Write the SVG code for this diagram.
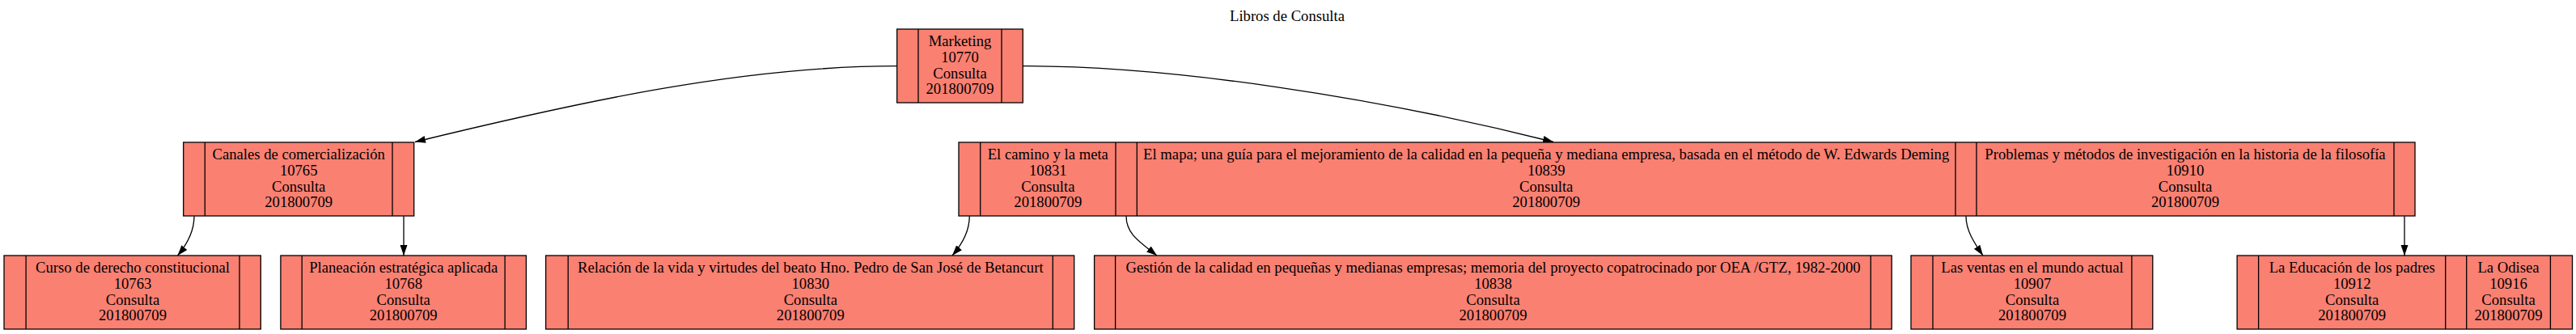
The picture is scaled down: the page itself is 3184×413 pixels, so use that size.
<svg xmlns="http://www.w3.org/2000/svg" width="3184" height="413" viewBox="0 0 3184 413">
<style>
.box{fill:#fa8072;stroke:#000;stroke-width:1.3}
.div{stroke:#000;stroke-width:1.3}
.t{font-family:"Liberation Serif","Times New Roman",serif;font-size:18.67px;fill:#000;text-anchor:middle}
.title{font-family:"Liberation Serif","Times New Roman",serif;font-size:18.67px;fill:#000;text-anchor:middle}
.e{fill:none;stroke:#000;stroke-width:1.3}
</style>
<defs>
<marker id="ah" markerUnits="userSpaceOnUse" markerWidth="14" markerHeight="10" refX="13" refY="4.5" orient="auto">
<path d="M0,0 L13,4.5 L0,9 z" fill="#000"/>
</marker>
</defs>
<rect width="3184" height="413" fill="#fff"/>
<text class="title" x="1591" y="26">Libros de Consulta</text>

<g id="edges">
<path class="e" marker-end="url(#ah)" d="M1108.7,81.7 C920,81.7 720,125 513,175.5"/>
<path class="e" marker-end="url(#ah)" d="M1264.3,81.7 C1450,81.7 1700,120 1920,175.5"/>
<path class="e" marker-end="url(#ah)" d="M240,267.3 C240,285 233,300 219.5,316"/>
<path class="e" marker-end="url(#ah)" d="M499,267.3 L499,316"/>
<path class="e" marker-end="url(#ah)" d="M1198.3,267.3 C1198.3,285 1191,300 1177,316"/>
<path class="e" marker-end="url(#ah)" d="M1392,267.3 C1392,290 1410,300 1430,316"/>
<path class="e" marker-end="url(#ah)" d="M2430,267.3 C2430,285 2440,300 2451,316"/>
<path class="e" marker-end="url(#ah)" d="M2972,267.3 L2972,316"/>
</g>

<g id="node-marketing">
<rect class="box" x="1108.7" y="36" width="155.6" height="91"/>
<line class="div" x1="1135" y1="36" x2="1135" y2="127"/>
<line class="div" x1="1238" y1="36" x2="1238" y2="127"/>
<text class="t" x="1186.5" y="57">Marketing</text>
<text class="t" x="1186.5" y="76.8">10770</text>
<text class="t" x="1186.5" y="96.6">Consulta</text>
<text class="t" x="1186.5" y="116.4">201800709</text>
</g>

<g id="node-canales">
<rect class="box" x="226.7" y="176" width="285" height="91"/>
<line class="div" x1="253.3" y1="176" x2="253.3" y2="267"/>
<line class="div" x1="485" y1="176" x2="485" y2="267"/>
<text class="t" x="369.2" y="197">Canales de comercialización</text>
<text class="t" x="369.2" y="216.8">10765</text>
<text class="t" x="369.2" y="236.6">Consulta</text>
<text class="t" x="369.2" y="256.4">201800709</text>
</g>

<g id="node-middle">
<rect class="box" x="1185" y="176" width="1800" height="91"/>
<line class="div" x1="1211.7" y1="176" x2="1211.7" y2="267"/>
<line class="div" x1="1379" y1="176" x2="1379" y2="267"/>
<line class="div" x1="1405.3" y1="176" x2="1405.3" y2="267"/>
<line class="div" x1="2417" y1="176" x2="2417" y2="267"/>
<line class="div" x1="2443" y1="176" x2="2443" y2="267"/>
<line class="div" x1="2959" y1="176" x2="2959" y2="267"/>
<text class="t" x="1295.3" y="197">El camino y la meta</text>
<text class="t" x="1295.3" y="216.8">10831</text>
<text class="t" x="1295.3" y="236.6">Consulta</text>
<text class="t" x="1295.3" y="256.4">201800709</text>
<text class="t" x="1911.2" y="197">El mapa; una guía para el mejoramiento de la calidad en la pequeña y mediana empresa, basada en el método de W. Edwards Deming</text>
<text class="t" x="1911.2" y="216.8">10839</text>
<text class="t" x="1911.2" y="236.6">Consulta</text>
<text class="t" x="1911.2" y="256.4">201800709</text>
<text class="t" x="2701" y="197">Problemas y métodos de investigación en la historia de la filosofía</text>
<text class="t" x="2701" y="216.8">10910</text>
<text class="t" x="2701" y="236.6">Consulta</text>
<text class="t" x="2701" y="256.4">201800709</text>
</g>

<g id="node-curso">
<rect class="box" x="5" y="316" width="317.3" height="91"/>
<line class="div" x1="32.1" y1="316" x2="32.1" y2="407"/>
<line class="div" x1="296" y1="316" x2="296" y2="407"/>
<text class="t" x="164" y="337">Curso de derecho constitucional</text>
<text class="t" x="164" y="356.8">10763</text>
<text class="t" x="164" y="376.6">Consulta</text>
<text class="t" x="164" y="396.4">201800709</text>
</g>

<g id="node-planeacion">
<rect class="box" x="346.9" y="316" width="303.5" height="91"/>
<line class="div" x1="373.2" y1="316" x2="373.2" y2="407"/>
<line class="div" x1="624.1" y1="316" x2="624.1" y2="407"/>
<text class="t" x="498.7" y="337">Planeación estratégica aplicada</text>
<text class="t" x="498.7" y="356.8">10768</text>
<text class="t" x="498.7" y="376.6">Consulta</text>
<text class="t" x="498.7" y="396.4">201800709</text>
</g>

<g id="node-relacion">
<rect class="box" x="674.6" y="316" width="653.1" height="91"/>
<line class="div" x1="702.2" y1="316" x2="702.2" y2="407"/>
<line class="div" x1="1301.3" y1="316" x2="1301.3" y2="407"/>
<text class="t" x="1001.8" y="337">Relación de la vida y virtudes del beato Hno. Pedro de San José de Betancurt</text>
<text class="t" x="1001.8" y="356.8">10830</text>
<text class="t" x="1001.8" y="376.6">Consulta</text>
<text class="t" x="1001.8" y="396.4">201800709</text>
</g>

<g id="node-gestion">
<rect class="box" x="1352.6" y="316" width="985.6" height="91"/>
<line class="div" x1="1378.6" y1="316" x2="1378.6" y2="407"/>
<line class="div" x1="2312.3" y1="316" x2="2312.3" y2="407"/>
<text class="t" x="1845.5" y="337">Gestión de la calidad en pequeñas y medianas empresas; memoria del proyecto copatrocinado por OEA /GTZ, 1982-2000</text>
<text class="t" x="1845.5" y="356.8">10838</text>
<text class="t" x="1845.5" y="376.6">Consulta</text>
<text class="t" x="1845.5" y="396.4">201800709</text>
</g>

<g id="node-ventas">
<rect class="box" x="2362" y="316" width="298.8" height="91"/>
<line class="div" x1="2389" y1="316" x2="2389" y2="407"/>
<line class="div" x1="2634.9" y1="316" x2="2634.9" y2="407"/>
<text class="t" x="2512" y="337">Las ventas en el mundo actual</text>
<text class="t" x="2512" y="356.8">10907</text>
<text class="t" x="2512" y="376.6">Consulta</text>
<text class="t" x="2512" y="396.4">201800709</text>
</g>

<g id="node-educacion">
<rect class="box" x="2765.1" y="316" width="414.4" height="91"/>
<line class="div" x1="2791.6" y1="316" x2="2791.6" y2="407"/>
<line class="div" x1="3022.7" y1="316" x2="3022.7" y2="407"/>
<line class="div" x1="3048.7" y1="316" x2="3048.7" y2="407"/>
<line class="div" x1="3152.4" y1="316" x2="3152.4" y2="407"/>
<text class="t" x="2907.2" y="337">La Educación de los padres</text>
<text class="t" x="2907.2" y="356.8">10912</text>
<text class="t" x="2907.2" y="376.6">Consulta</text>
<text class="t" x="2907.2" y="396.4">201800709</text>
<text class="t" x="3100.5" y="337">La Odisea</text>
<text class="t" x="3100.5" y="356.8">10916</text>
<text class="t" x="3100.5" y="376.6">Consulta</text>
<text class="t" x="3100.5" y="396.4">201800709</text>
</g>
</svg>
